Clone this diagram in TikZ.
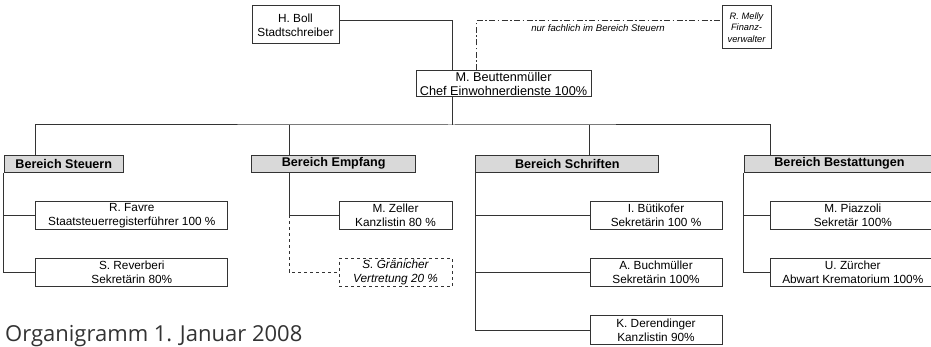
\documentclass[tikz,border=0pt]{standalone}
\usepackage{fontspec}
\setmainfont{Liberation Sans}
\newfontfamily\titelfont{Open Sans}
\begin{document}
\begin{tikzpicture}[x=1pt, y=-1pt, line join=miter, font=\fontsize{11.8}{13.6}\selectfont]
			\tikzset{person/.style={draw=black!80, fill=white, line width=1pt, align=center, inner sep=0pt, minimum height=28.5pt},
				vertretung/.style={person, dashed, font=\fontsize{11.8}{13.6}\selectfont\itshape},
				bereich/.style={draw=black!80, fill=black!15, line width=1pt, inner sep=0pt, minimum height=17.3pt, font=\fontsize{12.6}{14}\selectfont\bfseries},
				link/.style={line width=1pt, draw=black!80},
				fachlich/.style={link, dash pattern=on 6pt off 2.5pt on 1.5pt off 2.5pt}}
			\useasboundingbox (0,0) rectangle (931,347);
			% Leitung
			\node[person, minimum width=87pt, minimum height=38pt] (boll) at (295.5,25) {H. Boll\\Stadtschreiber};
			\node[person, minimum width=175pt, minimum height=26pt, font=\fontsize{12.7}{13.8}\selectfont] (chef) at (503.5,84) {M. Beuttenmüller\\Chef Einwohnerdienste 100\%};
			\node[person, minimum width=49pt, minimum height=43pt, font=\fontsize{9.3}{11.8}\selectfont\itshape] (melly) at (746.5,27.5) {R. Melly\\Finanz-\\verwalter};
			\coordinate (knick) at (476,21);
			\coordinate (stamm) at (452,125);
			\coordinate (zweig) at (289,125);
			% Bereiche
			\node[bereich, minimum width=119pt] (steuern) at (63.8,163.7) {Bereich Steuern};
			\node[bereich, minimum width=164pt] (empfang) at (333.7,163.7) {Bereich Empfang};
			\node[bereich, minimum width=183.3pt] (schriften) at (567.3,163.7) {Bereich Schriften};
			\node[bereich, minimum width=191pt] (bestattungen) at (839.5,163.7) {Bereich Bestattungen};
			% Mitarbeitende
			\node[person, minimum width=191.7pt] (favre) at (131.8,215.5) {R. Favre\\Staatsteuerregisterführer 100 \%};
			\node[person, minimum width=191.7pt] (reverberi) at (131.8,272.5) {S. Reverberi\\Sekretärin 80\%};
			\node[person, minimum width=113pt] (zeller) at (395.5,215.5) {M. Zeller\\Kanzlistin 80 \%};
			\node[vertretung, minimum width=113pt] (graenicher) at (395.5,272.5) {S. Gränicher\\Vertretung 20 \%};
			\node[person, minimum width=132pt] (buetikofer) at (656,215.5) {I. Bütikofer\\Sekretärin 100 \%};
			\node[person, minimum width=132pt] (buchmueller) at (656,272.5) {A. Buchmüller\\Sekretärin 100\%};
			\node[person, minimum width=132pt] (derendinger) at (656,330) {K. Derendinger\\Kanzlistin 90\%};
			\node[person, minimum width=164.3pt] (piazzoli) at (852.8,215.5) {M. Piazzoli\\Sekretär 100\%};
			\node[person, minimum width=164.3pt] (zuercher) at (852.8,272.5) {U. Zürcher\\Abwart Krematorium 100\%};
			% Linien
			\draw[link] (boll.east |- knick) -| (chef.north -| stamm);
			\draw[link] (chef.south -| stamm) -- (stamm);
			\draw[fachlich] (chef.north -| knick) -- (knick) -- (melly.west |- knick);
			\node[font=\fontsize{9.6}{11}\selectfont\itshape] (hinweis) at (598,28.5) {nur fachlich im Bereich Steuern};
			\draw[link] (steuern.north -| favre.west) |- (stamm) -| (bestattungen.north -| piazzoli.west);
			\draw[link] (empfang.north -| zweig) -- (zweig);
			\draw[link] (schriften.north -| buetikofer.west) -- (buetikofer.west |- stamm);
			\draw[link] (steuern.south west) |- (reverberi.west) (steuern.south west |- favre.west) -- (favre.west);
			\draw[link] (empfang.south -| zweig) |- (zeller.west);
			\draw[link, dashed] (zeller.west -| zweig) |- (graenicher.west);
			\draw[link] (schriften.south west) |- (derendinger.west) (schriften.south west |- buetikofer.west) -- (buetikofer.west)
				(schriften.south west |- buchmueller.west) -- (buchmueller.west);
			\draw[link] (bestattungen.south west) |- (zuercher.west) (bestattungen.south west |- piazzoli.west) -- (piazzoli.west);
			%\node (stand) at (5,330) {Organigramm};
			\node[anchor=base west, inner sep=0pt, text=black!80, font=\titelfont\fontsize{22}{24}\selectfont] (titel) at (5,341.5) {Organigramm 1. Januar 2008};
	\end{tikzpicture}
\end{document}
